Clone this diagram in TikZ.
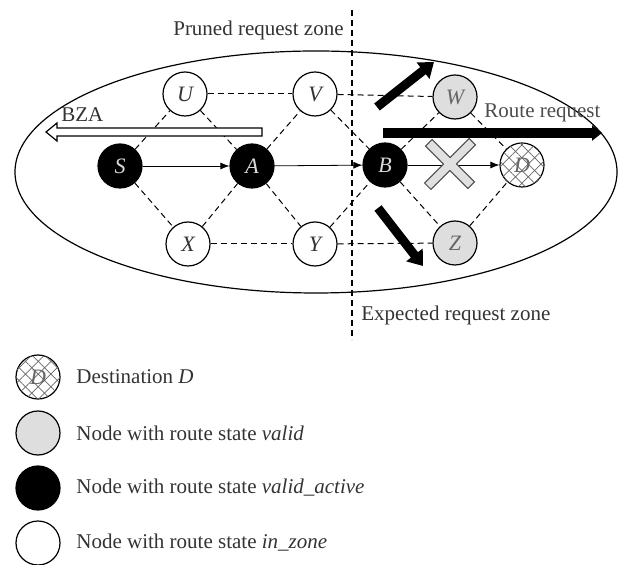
\documentclass[tikz,border=0pt]{standalone}
\usepackage{fontspec}
\setmainfont{Liberation Serif}
\usetikzlibrary{arrows.meta,patterns.meta}
\begin{document}
\begin{tikzpicture}[x=0.5pt,y=-0.5pt,
  font=\fontsize{10.5}{12}\selectfont,
  lbl/.style={inner sep=0pt,text=black!80},
  nd/.style={circle,draw,line width=0.6pt,minimum size=22pt,inner sep=0pt,font=\fontsize{11}{12}\selectfont\itshape},
  inzone/.style={nd,fill=white,text=black!80},
  validst/.style={nd,fill=black!13,text=black!60},
  activest/.style={nd,fill=black,text=white!85!black},
  dest/.style={nd,fill=white,text=black!60,
    postaction={pattern={Lines[angle=45,distance=4.5pt,line width=0.35pt]},pattern color=black!60},
    postaction={pattern={Lines[angle=-45,distance=4.5pt,line width=0.35pt]},pattern color=black!60}},
  dashedge/.style={draw,line width=0.5pt,dash pattern=on 3pt off 2pt},
  flow/.style={draw,line width=0.4pt,-{Latex[length=4.5pt,width=3.5pt]}},
  bigarrow/.style={line width=4.5pt,-{Triangle[length=7pt,width=10pt]}},
  widearrow/.style={line width=5pt,-{Triangle[length=5pt,width=7.5pt]}}
]
\useasboundingbox (0,0) rectangle (619,565);

% zone ellipse
\draw[line width=0.6pt] (316,172) ellipse [x radius=150.5pt, y radius=60.5pt];

% zone divider
\coordinate (ztop) at (352,10);
\coordinate (zbot) at (352,340);
\draw[line width=0.6pt,dash pattern=on 3pt off 2pt] (ztop) -- (zbot);
\node[lbl,anchor=east] (pruned) at (344,30) {Pruned request zone};
\node[lbl,anchor=west] (expected) at (361,315) {Expected request zone};

% nodes
\node[inzone] (U) at (185,94) {U};
\node[inzone] (V) at (315,94) {V};
\node[activest] (S) at (120,166) {S};
\node[activest] (A) at (252,166) {A};
\node[activest] (B) at (385,165) {B};
\node[inzone] (X) at (188,244) {X};
\node[inzone] (Y) at (315,244) {Y};
\node[validst] (W) at (455,97) {W};
\node[validst] (Z) at (455,243) {Z};
\node[dest] (D) at (522,165) {D};

% dashed links
\foreach \a/\b in {U/V,X/Y,V/W,Y/Z,S/U,U/A,S/X,X/A,A/V,A/Y,V/B,Y/B,B/W,W/D,B/Z,Z/D}
  \path[dashedge] (\a) -- (\b);

% solid route
\draw[flow] (S) -- (A);
\draw[flow] (A) -- (B);
\draw[flow] (B) -- (D);

% cross
\begin{scope}[shift={(450,164)},rotate=45,xscale=1.05]
  \filldraw[fill=black!12,draw=black!70,line width=0.5pt]
    (30,4.5) -- (4.5,4.5) -- (4.5,30) -- (-4.5,30) -- (-4.5,4.5) -- (-30,4.5)
    -- (-30,-4.5) -- (-4.5,-4.5) -- (-4.5,-30) -- (4.5,-30) -- (4.5,-4.5) -- (30,-4.5) -- cycle;
\end{scope}

% thick arrows
\coordinate (a1s) at (377,107);
\coordinate (a1e) at (434,62);
\coordinate (a2s) at (378,208);
\coordinate (a2e) at (423,266);
\coordinate (rrs) at (383,133);
\coordinate (rre) at (602,133);
\draw[bigarrow] (a1s) -- (a1e);
\draw[bigarrow] (a2s) -- (a2e);
\draw[widearrow] (rrs) -- (rre);
\node[lbl,anchor=west,text=black!70] (rrlabel) at (484,113) {Route request};

% BZA hollow arrow
\filldraw[fill=white,draw=black,line width=0.6pt]
  (262,128) -- (57,128) -- (57,123) -- (46,132) -- (57,141) -- (57,136) -- (262,136) -- cycle;
\node[lbl,anchor=west] (bza) at (61,115) {BZA};

% legend
\node[dest] (lD) at (38,377) {D};
\node[validst] (lW) at (38,433) {};
\node[activest] (lA) at (38,488) {};
\node[inzone] (lI) at (38,543) {};
\node[lbl,anchor=west] (tD) at (76,377) {Destination \textit{D}};
\node[lbl,anchor=west] (tW) at (76,433) {Node with route state \textit{valid}};
\node[lbl,anchor=west] (tA) at (76,488) {Node with route state \textit{valid\_active}};
\node[lbl,anchor=west] (tI) at (76,543) {Node with route state \textit{in\_zone}};
\end{tikzpicture}
\end{document}
